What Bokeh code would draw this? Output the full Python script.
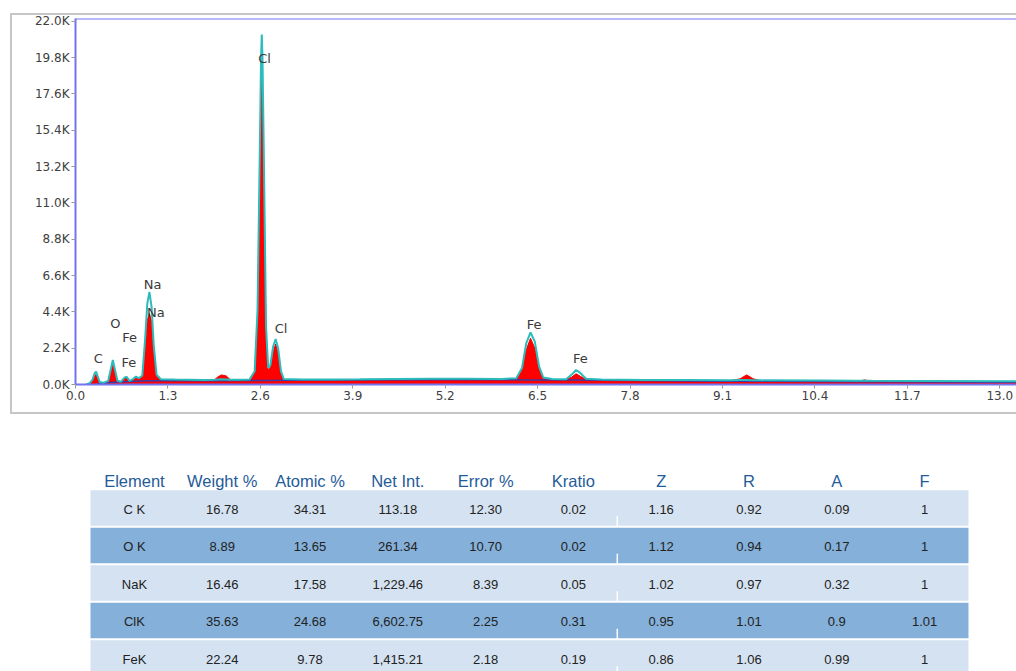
from bokeh.plotting import figure
from bokeh.layouts import column
from bokeh.models import Range1d, FixedTicker, Span
from bokeh.core.properties import value
from bokeh.embed import file_html
from bokeh.resources import INLINE

# ---------------- spectrum data (keV, counts) ----------------
energy_kev = [0.15, 0.20, 0.24, 0.27, 0.29, 0.31, 0.34, 0.40, 0.46, 0.50, 0.525, 0.55, 0.59,
              0.64, 0.69, 0.72, 0.76, 0.81, 0.85, 0.89, 0.94, 0.98, 1.01, 1.04, 1.07, 1.10,
              1.14, 1.20, 1.40, 1.60, 1.80, 1.95, 2.00, 2.05, 2.12, 2.18, 2.30, 2.45, 2.52,
              2.56, 2.59, 2.61, 2.62, 2.63, 2.65, 2.68, 2.71, 2.74, 2.78, 2.815, 2.85, 2.89,
              2.93, 3.20, 3.60, 4.00, 4.50, 5.00, 5.50, 6.00, 6.20, 6.28, 6.34, 6.40, 6.46,
              6.52, 6.58, 6.70, 6.90, 6.98, 7.04, 7.10, 7.18, 7.40, 8.00, 8.60, 9.20, 9.35,
              9.44, 9.53, 9.65, 10.50, 11.00, 11.10, 11.20, 12.00, 13.30]
counts_red = [0, 60, 250, 550, 600, 400, 120, 100, 200, 900, 1350, 900, 200,
              150, 380, 420, 200, 300, 450, 350, 500, 2200, 3900, 4300, 3800, 2000,
              500, 280, 260, 250, 240, 260, 450, 580, 520, 280, 260, 280, 700,
              4000, 12000, 18000, 19300, 18000, 12000, 3000, 900, 1000, 2000, 2450, 1900, 700,
              300, 260, 280, 300, 320, 320, 320, 310, 350, 900, 2100, 2800, 2200,
              900, 350, 300, 290, 450, 650, 500, 300, 260, 230, 220, 210, 350,
              580, 350, 210, 190, 180, 280, 180, 160, 130]
counts_cyan = [0, 80, 300, 700, 780, 520, 150, 110, 220, 1000, 1480, 1000, 230,
               170, 420, 460, 220, 330, 480, 380, 550, 2800, 4900, 5600, 4700, 2400,
               600, 320, 300, 290, 280, 290, 300, 320, 310, 290, 290, 310, 800,
               4500, 13500, 19800, 21200, 19800, 13500, 3500, 1000, 1150, 2300, 2750, 2200, 800,
               330, 300, 310, 320, 340, 345, 345, 340, 380, 1000, 2500, 3150, 2600,
               1100, 420, 330, 320, 600, 880, 700, 350, 300, 280, 270, 260, 270,
               270, 260, 250, 240, 230, 230, 225, 210, 190]
background_kev = [0.30, 0.60, 1.00, 2.00, 2.60, 3.00, 5.00, 6.40, 7.00, 9.00, 11.00, 13.30]
background_counts = [50, 150, 220, 230, 240, 250, 290, 280, 270, 200, 170, 130]

peak_labels = ["C", "O", "Fe", "Fe", "Na", "Na", "Cl", "Cl", "Fe", "Fe"]
peak_label_kev = [0.32, 0.56, 0.76, 0.75, 1.085, 1.13, 2.66, 2.89, 6.45, 7.10]
peak_label_counts = [1580, 3700, 2850, 1330, 6060, 4360, 19760, 3390, 3640, 1580]

x_tick_values = [0.0, 1.3, 2.6, 3.9, 5.2, 6.5, 7.8, 9.1, 10.4, 11.7, 13.0]
x_tick_labels = ["0.0", "1.3", "2.6", "3.9", "5.2", "6.5", "7.8", "9.1", "10.4", "11.7", "13.0"]
y_tick_values = [0, 2200, 4400, 6600, 8800, 11000, 13200, 15400, 17600, 19800, 22000]
y_tick_labels = ["0.0K", "2.2K", "4.4K", "6.6K", "8.8K", "11.0K", "13.2K", "15.4K", "17.6K", "19.8K", "22.0K"]

# ---------------- table data ----------------
table_headers = ["Element", "Weight %", "Atomic %", "Net Int.", "Error %", "Kratio", "Z", "R", "A", "F"]
elements = ["C K", "O K", "NaK", "ClK", "FeK"]
weight_pct = ["16.78", "8.89", "16.46", "35.63", "22.24"]
atomic_pct = ["34.31", "13.65", "17.58", "24.68", "9.78"]
net_int = ["113.18", "261.34", "1,229.46", "6,602.75", "1,415.21"]
error_pct = ["12.30", "10.70", "8.39", "2.25", "2.18"]
kratio = ["0.02", "0.02", "0.05", "0.31", "0.19"]
z_factor = ["1.16", "1.12", "1.02", "0.95", "0.86"]
r_factor = ["0.92", "0.94", "0.97", "1.01", "1.06"]
a_factor = ["0.09", "0.17", "0.32", "0.9", "0.99"]
f_factor = ["1", "1", "1", "1.01", "1"]

BLUE = "#7474f2"
GREY = "#c6c6c6"
TICK_FONT = "DejaVu Sans"
W = 1016
LEFT = 75

# outer grey panel border, painted behind a transparent plot border area
grad = "linear-gradient(%s,%s)" % (GREY, GREY)
panel_styles = {
    "background-image": ", ".join([grad] * 3),
    "background-size": "1012px 2px, 1012px 2px, 2px 401px",
    "background-position": "10px 13px, 10px 412px, 10px 13px",
    "background-repeat": "no-repeat",
}

# ---------------- spectrum figure ----------------
x_end = 13.235
y_end = 22165
p1 = figure(width=W, height=420, x_range=Range1d(0, x_end), y_range=Range1d(0, y_end),
            output_backend="svg", toolbar_location=None,
            min_border_left=LEFT, min_border_right=0, min_border_top=18, min_border_bottom=36,
            styles=panel_styles)
p1.grid.visible = False
p1.outline_line_color = None
p1.border_fill_color = None
p1.background_fill_color = "white"

p1.varea(x=energy_kev, y1=[0] * len(energy_kev), y2=counts_red, fill_color="#ff0000")
p1.line(x=energy_kev, y=counts_red, line_color="#ee0000", line_width=1)
p1.line(x=background_kev, y=background_counts, line_color="#3a3aa8", line_width=1.5)
p1.line(x=energy_kev, y=counts_cyan, line_color="#2cbcbc", line_width=2)

p1.text(x=peak_label_kev, y=peak_label_counts, text=peak_labels,
        text_font=value(TICK_FONT), text_font_size="13px", text_color="#3a3a3a",
        text_align="center", text_baseline="middle")

for ax in (p1.xaxis[0], p1.yaxis[0]):
    ax.axis_line_color = BLUE
    ax.axis_line_width = 2
    ax.major_tick_line_color = "#9a9a9a"
    ax.major_tick_in = 0
    ax.major_tick_out = 4
    ax.minor_tick_line_color = None
    ax.major_label_text_font = TICK_FONT
    ax.major_label_text_font_size = "12px"
    ax.major_label_text_color = "#404040"
    ax.major_label_standoff = 2

p1.xaxis[0].ticker = FixedTicker(ticks=x_tick_values)
p1.xaxis[0].major_label_overrides = dict(zip(x_tick_values, x_tick_labels))
p1.yaxis[0].ticker = FixedTicker(ticks=y_tick_values)
p1.yaxis[0].major_label_overrides = dict(zip(y_tick_values, y_tick_labels))

p1.add_layout(Span(location=y_end, dimension="width", line_color=BLUE, line_width=2))

# ---------------- table figure ----------------
p2 = figure(width=W, height=251, x_range=Range1d(-0.671, 10.047), y_range=Range1d(4.36, -2.333),
            output_backend="svg", toolbar_location=None,
            min_border_left=LEFT, min_border_right=0, min_border_top=0, min_border_bottom=0,
            x_axis_location=None, y_axis_location=None)
p2.grid.visible = False
p2.outline_line_color = None

n_rows = len(elements)
row_idx = list(range(n_rows))
row_colors = ["#d5e2f1" if r % 2 == 0 else "#84b0d9" for r in row_idx]
p2.rect(x=[4.5] * n_rows, y=row_idx, width=10, height=0.95, fill_color=row_colors, line_color=None)
p2.segment(x0=[5.5] * n_rows, y0=[r + 0.22 for r in row_idx], x1=[5.5] * n_rows,
           y1=[r + 0.5 for r in row_idx], line_color="white", line_width=1.5)

columns = [elements, weight_pct, atomic_pct, net_int, error_pct, kratio, z_factor, r_factor, a_factor, f_factor]
cx, cy, ct = [], [], []
for c, col in enumerate(columns):
    for r, txt in enumerate(col):
        cx.append(c)
        cy.append(r + 0.04)
        ct.append(txt)
p2.text(x=cx, y=cy, text=ct, text_font=value("Liberation Sans"), text_font_size="13px",
        text_color="#222222", text_align="center", text_baseline="middle")

p2.text(x=list(range(len(table_headers))), y=[-0.733] * len(table_headers), text=table_headers,
        text_font=value("Liberation Sans"), text_font_size="16.5px", text_color="#1f5c99",
        text_align="center", text_baseline="middle")

layout = column(p1, p2, spacing=0)
open("out.html", "w").write(file_html(layout, INLINE))
